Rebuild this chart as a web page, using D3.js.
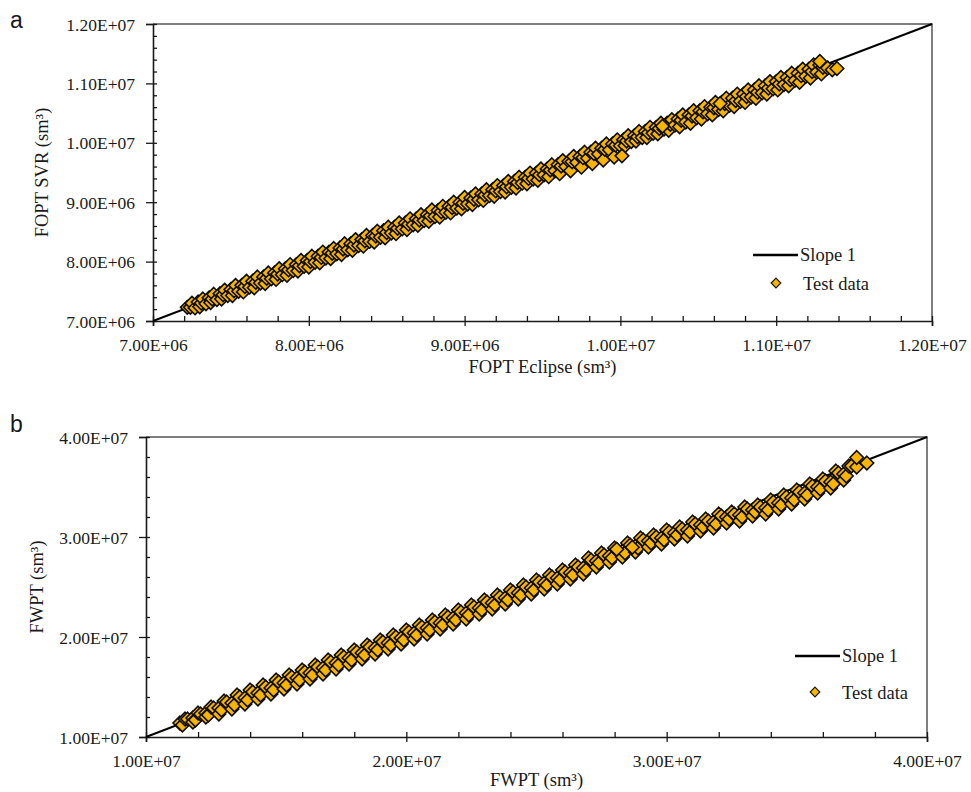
<!DOCTYPE html>
<html>
<head>
<meta charset="utf-8">
<script src="https://cdn.jsdelivr.net/npm/d3@7"></script>
<style>
  body { margin: 0; background: #fff; }
  svg { display: block; }
</style>
</head>
<body>
<svg id="chart" width="971" height="792"></svg>
<script>
// Cumulative oil production (FOPT), in units of 1e6 sm3: Eclipse vs SVR
const foptEclipse = [
  7.25,7.32,7.39,7.46,7.53,7.60,7.67,7.74,7.81,7.88,
  7.95,8.02,8.09,8.16,8.23,8.30,8.37,8.44,8.51,8.58,
  8.65,8.72,8.79,8.86,8.93,9.00,9.07,9.14,9.21,9.28,
  9.35,9.42,9.49,9.56,9.63,9.70,9.77,9.84,9.91,9.98,
  10.05,10.12,10.19,10.26,10.33,10.40,10.47,10.54,10.61,10.68,
  10.75,10.82,10.89,10.96,11.03,11.10,11.17,11.24,

  7.22,7.29,7.36,7.43,7.50,7.57,7.64,7.71,7.78,7.85,
  7.92,7.99,8.06,8.13,8.20,8.27,8.34,8.41,8.48,8.55,
  8.62,8.69,8.76,8.83,8.90,8.97,9.04,9.11,9.18,9.25,
  9.32,9.39,9.46,9.53,9.60,9.67,9.74,9.81,9.88,9.95,
  10.02,10.09,10.16,10.23,10.30,10.37,10.44,10.51,10.58,10.65,
  10.72,10.79,10.86,10.93,11.00,11.07,11.14,11.21,11.28,

  7.24,7.31,7.38,7.45,7.52,7.59,7.66,7.73,7.80,7.87,
  7.94,8.01,8.08,8.15,8.22,8.29,8.36,8.43,8.50,8.57,
  8.64,8.71,8.78,8.85,8.92,8.99,9.06,9.13,9.20,9.27,
  9.34,9.41,9.48,9.55,9.62,9.69,9.76,9.83,9.90,9.97,
  10.04,10.11,10.18,10.25,10.32,10.39,10.46,10.53,10.60,10.67,
  10.74,10.81,10.88,10.95,11.02,11.09,11.16,11.23,11.30,

  7.27,7.34,7.41,7.48,7.55,7.62,7.69,7.76,7.83,7.90,
  7.97,8.04,8.11,8.18,8.25,8.32,8.39,8.46,8.53,8.60,
  8.67,8.74,8.81,8.88,8.95,9.02,9.09,9.16,9.23,9.30,
  9.37,9.44,9.51,9.58,9.65,9.72,9.79,9.86,9.93,10.00,
  10.07,10.14,10.21,10.28,10.35,10.42,10.49,10.56,10.63,10.70,
  10.77,10.84,10.91,10.98,11.05,11.12,11.19,11.26,11.33,

  7.30,7.37,7.44,7.51,7.58,7.65,7.72,7.79,7.86,7.93,
  8.00,8.07,8.14,8.21,8.28,8.35,8.42,8.49,8.56,8.63,
  8.70,8.77,8.84,8.91,8.98,9.05,9.12,9.19,9.26,9.33,
  9.40,9.47,9.54,9.61,9.68,9.75,9.82,9.89,9.96,10.03,
  10.10,10.17,10.24,10.31,10.38,10.45,10.52,10.59,10.66,10.73,
  10.80,10.87,10.94,11.01,11.08,11.15,11.22,11.29,11.36
];
const foptSvr = [
  7.30,7.37,7.45,7.52,7.60,7.67,7.74,7.81,7.88,7.95,
  8.02,8.09,8.16,8.22,8.30,8.37,8.44,8.51,8.58,8.65,
  8.72,8.79,8.87,8.93,9.00,9.08,9.14,9.21,9.28,9.35,
  9.42,9.49,9.56,9.63,9.70,9.77,9.84,9.91,9.98,10.05,
  10.12,10.19,10.26,10.33,10.39,10.47,10.54,10.61,10.68,10.75,
  10.82,10.89,10.96,11.03,11.10,11.17,11.24,11.31,

  7.23,7.32,7.39,7.46,7.53,7.60,7.67,7.74,7.81,7.88,
  7.95,8.02,8.09,8.16,8.23,8.30,8.37,8.44,8.52,8.58,
  8.65,8.72,8.79,8.86,8.93,9.00,9.07,9.14,9.21,9.28,
  9.35,9.42,9.49,9.56,9.63,9.69,9.77,9.84,9.91,9.98,
  10.05,10.12,10.19,10.26,10.33,10.40,10.47,10.54,10.60,10.68,
  10.75,10.82,10.89,10.96,11.03,11.10,11.17,11.24,11.31,

  7.23,7.30,7.37,7.44,7.51,7.58,7.65,7.72,7.79,7.86,
  7.93,8.00,8.07,8.14,8.21,8.28,8.35,8.43,8.49,8.56,
  8.63,8.70,8.77,8.84,8.91,8.98,9.05,9.12,9.19,9.26,
  9.33,9.40,9.46,9.54,9.61,9.68,9.75,9.82,9.89,9.96,
  10.03,10.10,10.17,10.24,10.31,10.38,10.45,10.52,10.59,10.66,
  10.71,10.78,10.85,10.92,10.99,11.06,11.13,11.20,11.27,

  7.22,7.29,7.36,7.43,7.50,7.57,7.64,7.71,7.78,7.85,
  7.92,7.99,8.06,8.13,8.20,8.27,8.34,8.41,8.48,8.55,
  8.62,8.69,8.76,8.83,8.90,8.97,9.04,9.11,9.18,9.25,
  9.32,9.39,9.46,9.53,9.60,9.67,9.74,9.81,9.88,9.95,
  10.02,10.09,10.16,10.23,10.30,10.35,10.42,10.49,10.56,10.63,
  10.70,10.77,10.84,10.91,10.98,11.05,11.12,11.19,11.26,

  7.24,7.31,7.37,7.43,7.49,7.56,7.63,7.70,7.77,7.84,
  7.91,7.98,8.05,8.12,8.19,8.26,8.33,8.40,8.47,8.54,
  8.61,8.68,8.75,8.82,8.89,8.96,9.03,9.10,9.17,9.24,
  9.31,9.37,9.43,9.48,9.53,9.59,9.65,9.71,9.76,9.95,
  10.03,10.09,10.15,10.21,10.27,10.33,10.40,10.47,10.54,10.61,
  10.68,10.75,10.82,10.89,10.96,11.02,11.09,11.16,11.23
];
// points plotted over the band
const foptEclipseTop = [10.01, 10.27, 10.64, 11.28, 11.39];
const foptSvrTop     = [9.78, 10.28, 10.66, 11.37, 11.25];

// Cumulative water production (FWPT), in units of 1e6 sm3: Eclipse vs SVR
const fwptEclipse = [
  11.5,12.0,12.5,13.0,13.5,14.0,14.5,15.0,15.5,16.0,
  16.5,17.0,17.5,18.0,18.5,19.0,19.5,20.0,20.5,21.0,
  21.5,22.0,22.5,23.0,23.5,24.0,24.5,25.0,25.5,26.0,
  26.5,27.0,27.5,28.0,28.5,29.0,29.5,30.0,30.5,31.0,
  31.5,32.0,32.5,33.0,33.5,34.0,34.5,35.0,35.5,36.0,
  36.5,37.0,

  11.6,12.1,12.6,13.1,13.6,14.1,14.6,15.1,15.6,16.1,
  16.6,17.1,17.6,18.1,18.6,19.1,19.6,20.1,20.6,21.1,
  21.6,22.1,22.6,23.1,23.6,24.1,24.6,25.1,25.6,26.1,
  26.6,27.1,27.6,28.1,28.6,29.1,29.6,30.1,30.6,31.1,
  31.6,32.1,32.6,33.1,33.6,34.1,34.6,35.1,35.6,36.1,
  36.6,37.1,

  11.3,11.8,12.3,12.8,13.3,13.8,14.3,14.8,15.3,15.8,
  16.3,16.8,17.3,17.8,18.3,18.8,19.3,19.8,20.3,20.8,
  21.3,21.8,22.3,22.8,23.3,23.8,24.3,24.8,25.3,25.8,
  26.3,26.8,27.3,27.8,28.3,28.8,29.3,29.8,30.3,30.8,
  31.3,31.8,32.3,32.8,33.3,33.8,34.3,34.8,35.3,35.8,
  36.3,36.8,37.3,

  11.4,11.9,12.4,12.9,13.4,13.9,14.4,14.9,15.4,15.9,
  16.4,16.9,17.4,17.9,18.4,18.9,19.4,19.9,20.4,20.9,
  21.4,21.9,22.4,22.9,23.4,23.9,24.4,24.9,25.4,25.9,
  26.4,26.9,27.4,27.9,28.4,28.9,29.4,29.9,30.4,30.9,
  31.4,31.9,32.4,32.9,33.4,33.9,34.4,34.9,35.4,35.9,
  36.4,36.9,

  11.8,12.3,12.8,13.3,13.8,14.3,14.8,15.3,15.8,16.3,
  16.8,17.3,17.8,18.3,18.8,19.3,19.8,20.3,20.8,21.3,
  21.8,22.3,22.8,23.3,23.8,24.3,24.8,25.3,25.8,26.3,
  26.8,27.3,27.8,28.3,28.8,29.3,29.8,30.3,30.8,31.3,
  31.8,32.3,32.8,33.3,33.8,34.3,34.8,35.3,35.8,36.3,
  36.8
];
const fwptSvr = [
  11.8,12.4,13.0,13.6,14.2,14.7,15.2,15.7,16.2,16.7,
  17.2,17.7,18.2,18.7,19.2,19.7,20.2,20.7,21.2,21.7,
  22.2,22.7,23.2,23.7,24.2,24.7,25.2,25.7,26.2,26.7,
  27.2,27.9,28.4,28.9,29.4,29.9,30.2,30.7,31.0,31.5,
  31.8,32.3,32.5,33.0,33.2,33.7,34.2,34.7,35.3,35.8,
  36.6,37.1,

  11.8,12.3,12.9,13.5,14.0,14.5,15.0,15.5,16.0,16.5,
  17.0,17.5,18.0,18.5,19.0,19.5,20.0,20.5,21.0,21.5,
  22.0,22.5,23.0,23.5,24.0,24.5,25.0,25.5,26.0,26.5,
  27.0,27.7,28.2,28.7,29.2,29.7,30.0,30.5,30.8,31.3,
  31.6,32.1,32.3,32.8,33.0,33.5,34.0,34.5,35.1,35.6,
  36.4,37.1,

  11.4,11.9,12.4,12.9,13.4,13.9,14.4,14.9,15.4,15.9,
  16.4,16.9,17.4,17.9,18.4,18.9,19.4,19.9,20.4,20.9,
  21.4,21.9,22.4,22.9,23.4,23.9,24.4,24.9,25.4,25.9,
  26.4,26.9,27.6,28.1,28.6,29.1,29.6,29.9,30.4,30.7,
  31.2,31.5,32.0,32.2,32.7,32.9,33.4,33.9,34.4,35.0,
  35.5,36.3,37.0,

  11.2,11.7,12.2,12.7,13.2,13.7,14.2,14.7,15.2,15.7,
  16.2,16.7,17.2,17.7,18.2,18.7,19.2,19.7,20.2,20.7,
  21.2,21.7,22.2,22.7,23.2,23.7,24.2,24.7,25.2,25.7,
  26.2,26.7,27.4,27.9,28.4,28.9,29.4,29.7,30.2,30.5,
  31.0,31.3,31.8,32.0,32.5,32.7,33.2,33.7,34.2,34.8,
  35.3,36.1,

  11.5,12.0,12.3,12.8,13.3,13.8,14.3,14.8,15.3,15.8,
  16.3,16.8,17.3,17.8,18.3,18.8,19.3,19.8,20.3,20.8,
  21.3,21.8,22.3,22.8,23.3,23.8,24.3,24.8,25.3,25.8,
  26.3,27.0,27.5,28.0,28.5,29.0,29.3,29.8,30.1,30.6,
  30.9,31.4,31.6,32.1,32.3,32.8,33.3,33.8,34.4,34.9,
  35.7
];
const fwptEclipseTop = [28.08, 28.68, 37.30, 37.69];
const fwptSvrTop     = [28.77, 28.97, 37.95, 37.40];

// Axis ticks and labels
const foptTicks = [7, 8, 9, 10, 11, 12];
const foptTickLabels = ["7.00E+06", "8.00E+06", "9.00E+06", "1.00E+07", "1.10E+07", "1.20E+07"];
const fwptTicks = [10, 20, 30, 40];
const fwptTickLabels = ["1.00E+07", "2.00E+07", "3.00E+07", "4.00E+07"];
const legendLabels = ["Slope 1", "Test data"];

const SERIF = "'Liberation Serif', 'Times New Roman', serif";
const SANS = "'Liberation Sans', Arial, sans-serif";
const GOLD = "#F7B500";
const INK = "#1a1a1a";

const svg = d3.select("#chart");

const panels = [
  {
    letter: "a", letterY: 28,
    left: 153, right: 932, top: 24, bottom: 321,
    domain: [7, 12], ticks: foptTicks, labels: foptTickLabels, minorStep: 0.2,
    ex: foptEclipse, sv: foptSvr, exTop: foptEclipseTop, svTop: foptSvrTop,
    xTitle: "FOPT Eclipse (sm³)", yTitle: "FOPT SVR (sm³)",
    xTitleY: 373, yTitleX: 48,
    legend: { x1: 753, x2: 798, lineY: 255, text1Y: 261, mx: 776, my: 283, text2Y: 290 }
  },
  {
    letter: "b", letterY: 432,
    left: 146, right: 927, top: 437, bottom: 737,
    domain: [10, 40], ticks: fwptTicks, labels: fwptTickLabels, minorStep: 2,
    ex: fwptEclipse, sv: fwptSvr, exTop: fwptEclipseTop, svTop: fwptSvrTop,
    xTitle: "FWPT (sm³)", yTitle: "FWPT (sm³)",
    xTitleY: 786, yTitleX: 43,
    legend: { x1: 795, x2: 840, lineY: 656, text1Y: 662, mx: 815, my: 692, text2Y: 699 }
  }
];

function diamond(r) {
  return `M0,${-r}L${r},0L0,${r}L${-r},0Z`;
}

function drawPanel(p) {
  const x = d3.scaleLinear().domain(p.domain).range([p.left, p.right]);
  const y = d3.scaleLinear().domain(p.domain).range([p.bottom, p.top]);
  const g = svg.append("g");

  // panel letter
  g.append("text").attr("x", 10).attr("y", p.letterY)
    .attr("font-family", SANS).attr("font-size", 23).attr("fill", INK)
    .text(p.letter);

  // top and right frame
  g.append("path")
    .attr("d", `M${p.left},${p.top}H${p.right}V${p.bottom}`)
    .attr("fill", "none").attr("stroke", "#555").attr("stroke-width", 1.5);

  const isMajor = v => p.ticks.some(t => Math.abs(t - v) < 1e-6);
  const minor = d3.range(p.domain[0], p.domain[1] + 1e-9, p.minorStep).filter(v => !isMajor(v));

  // minor ticks (inside)
  g.append("g").attr("transform", `translate(0,${p.bottom})`)
    .call(d3.axisBottom(x).tickValues(minor).tickSize(-5).tickFormat(""))
    .call(s => s.select(".domain").remove())
    .call(s => s.selectAll("line").attr("stroke", INK).attr("stroke-width", 1.3));
  g.append("g").attr("transform", `translate(${p.left},0)`)
    .call(d3.axisLeft(y).tickValues(minor).tickSize(-4).tickFormat(""))
    .call(s => s.select(".domain").remove())
    .call(s => s.selectAll("line").attr("stroke", INK).attr("stroke-width", 1.3));

  // major x axis (ticks cross the axis line)
  const ax = g.append("g").attr("transform", `translate(0,${p.bottom})`)
    .call(d3.axisBottom(x).tickValues(p.ticks).tickSizeOuter(0).tickSize(5)
      .tickFormat((d, i) => p.labels[i]));
  ax.select(".domain").attr("stroke", INK).attr("stroke-width", 1.6);
  ax.selectAll(".tick line").attr("y1", -5).attr("stroke", INK).attr("stroke-width", 1.3);
  ax.selectAll(".tick text").attr("y", 30).attr("dy", null)
    .attr("font-family", SERIF).attr("font-size", 17.5).attr("fill", INK);

  // major y axis
  const ay = g.append("g").attr("transform", `translate(${p.left},0)`)
    .call(d3.axisLeft(y).tickValues(p.ticks).tickSizeOuter(0).tickSize(7)
      .tickFormat((d, i) => p.labels[i]));
  ay.select(".domain").attr("stroke", INK).attr("stroke-width", 1.6);
  ay.selectAll(".tick line").attr("x1", 4).attr("stroke", INK).attr("stroke-width", 1.3);
  ay.selectAll(".tick text").attr("x", -18).attr("dy", "0.35em")
    .attr("font-family", SERIF).attr("font-size", 17.5).attr("fill", INK);

  // axis titles
  g.append("text").attr("x", (p.left + p.right) / 2).attr("y", p.xTitleY)
    .attr("text-anchor", "middle").attr("font-family", SERIF).attr("font-size", 18.5)
    .attr("fill", INK).text(p.xTitle);
  g.append("text")
    .attr("transform", `translate(${p.yTitleX},${(p.top + p.bottom) / 2}) rotate(-90)`)
    .attr("text-anchor", "middle").attr("font-family", SERIF).attr("font-size", 18.5)
    .attr("fill", INK).text(p.yTitle);

  // slope-1 reference line (under the markers)
  g.append("line")
    .attr("x1", x(p.domain[0])).attr("y1", y(p.domain[0]))
    .attr("x2", x(p.domain[1])).attr("y2", y(p.domain[1]))
    .attr("stroke", "#000").attr("stroke-width", 2);

  // test data points, drawn left to right, then the ones on top
  const pts = p.ex.map((v, i) => ({ ex: v, sv: p.sv[i] })).sort((a, b) => a.ex - b.ex);
  const top = p.exTop.map((v, i) => ({ ex: v, sv: p.svTop[i] }));
  g.append("g").selectAll("path").data(pts.concat(top)).join("path")
    .attr("d", diamond(6.8))
    .attr("transform", d => `translate(${x(d.ex)},${y(d.sv)})`)
    .attr("fill", GOLD).attr("stroke", "#0d0d0d").attr("stroke-width", 1.6);

  // legend
  const L = p.legend;
  g.append("line").attr("x1", L.x1).attr("x2", L.x2).attr("y1", L.lineY).attr("y2", L.lineY)
    .attr("stroke", "#000").attr("stroke-width", 2.6);
  g.append("text").attr("x", L.x2 + 2).attr("y", L.text1Y)
    .attr("font-family", SERIF).attr("font-size", 18.5).attr("fill", INK).text(legendLabels[0]);
  g.append("path").attr("d", diamond(4.8)).attr("transform", `translate(${L.mx},${L.my})`)
    .attr("fill", GOLD).attr("stroke", INK).attr("stroke-width", 1.2);
  g.append("text").attr("x", L.mx + 27).attr("y", L.text2Y)
    .attr("font-family", SERIF).attr("font-size", 18.5).attr("fill", INK).text(legendLabels[1]);
}

panels.forEach(drawPanel);
</script>
</body>
</html>
